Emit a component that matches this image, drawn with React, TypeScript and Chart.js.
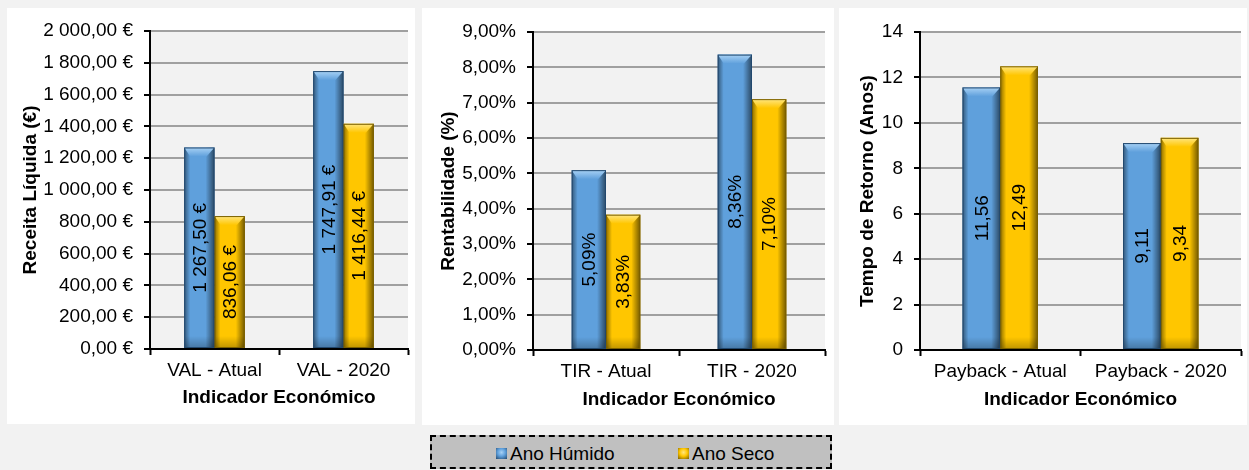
import React, { useEffect, useRef } from 'react';
import { Chart, registerables } from 'chart.js';

Chart.register(...registerables);

const seriesNames = ['Ano Húmido', 'Ano Seco'];
const xTitle = 'Indicador Económico';

const valCategories = ['VAL - Atual', 'VAL - 2020'];
const valHumido = [1267.5, 1747.91];
const valSeco = [836.06, 1416.44];

const tirCategories = ['TIR - Atual', 'TIR - 2020'];
const tirHumido = [5.09, 8.36];
const tirSeco = [3.83, 7.1];

const paybackCategories = ['Payback - Atual', 'Payback - 2020'];
const paybackHumido = [11.56, 9.11];
const paybackSeco = [12.49, 9.34];

const FONT = '"Liberation Sans", Arial, sans-serif';
const FS = 19;
const BLUE = '#5fa0dc';
const BLUE_LIGHT = '#a9d2f5';
const BLUE_DARK = '#22486e';
const GOLD = '#ffc600';
const GOLD_LIGHT = '#ffe680';
const GOLD_DARK = '#7a6000';

function fmtNum(v: number, dec: number): string {
  const s = v.toFixed(dec);
  const [i, d] = s.split('.');
  const ii = i.replace(/\B(?=(\d{3})+(?!\d))/g, ' ');
  return d ? ii + ',' + d : ii;
}
const fmtEuro = (v: number) => fmtNum(v, 2) + ' €';
const fmtPct = (v: number) => fmtNum(v, 2) + '%';
const fmtDec = (v: number) => fmtNum(v, 2);
const fmtInt = (v: number) => fmtNum(v, 0);

const plotBg = {
  id: 'plotBg',
  beforeDraw(chart: any) {
    const { ctx, chartArea: a } = chart;
    ctx.save();
    ctx.fillStyle = '#f2f2f2';
    ctx.fillRect(a.left, a.top, a.right - a.left, a.bottom - a.top);
    ctx.restore();
  },
};

function drawBevel(ctx: CanvasRenderingContext2D, l: number, r: number, t: number, b: number, face: string, light: string, dark: string) {
  const w = r - l;
  const h = b - t;
  ctx.save();
  let g = ctx.createLinearGradient(l, 0, l + 6, 0);
  g.addColorStop(0, 'rgba(0,0,0,0.45)');
  g.addColorStop(1, 'rgba(0,0,0,0)');
  ctx.fillStyle = g;
  ctx.fillRect(l, t, 6, h);
  g = ctx.createLinearGradient(r - 9, 0, r, 0);
  g.addColorStop(0, 'rgba(0,0,0,0)');
  g.addColorStop(1, 'rgba(0,0,0,0.55)');
  ctx.fillStyle = g;
  ctx.fillRect(r - 9, t, 9, h);
  const bh = Math.min(9, h / 2);
  ctx.beginPath();
  ctx.moveTo(l, t);
  ctx.lineTo(r, t);
  ctx.lineTo(r - 8, t + bh);
  ctx.lineTo(l + 6, t + bh);
  ctx.closePath();
  g = ctx.createLinearGradient(0, t, 0, t + bh);
  g.addColorStop(0, light);
  g.addColorStop(1, face);
  ctx.fillStyle = g;
  ctx.fill();
  g = ctx.createLinearGradient(0, b - 12, 0, b);
  g.addColorStop(0, 'rgba(0,0,0,0)');
  g.addColorStop(1, 'rgba(0,0,0,0.25)');
  ctx.fillStyle = g;
  ctx.fillRect(l, b - 12, w, 12);
  ctx.strokeStyle = dark;
  ctx.lineWidth = 1;
  ctx.strokeRect(l + 0.5, t + 0.5, w - 1, h - 1);
  ctx.restore();
}

function makeBarPlugin(fmt: (v: number) => string) {
  return {
    id: 'bevelLabels',
    afterDatasetsDraw(chart: any) {
      const { ctx } = chart;
      const styles = [
        [BLUE, BLUE_LIGHT, BLUE_DARK],
        [GOLD, GOLD_LIGHT, GOLD_DARK],
      ];
      chart.data.datasets.forEach((ds: any, di: number) => {
        const meta = chart.getDatasetMeta(di);
        meta.data.forEach((el: any, i: number) => {
          const l = el.x - el.width / 2;
          const r = el.x + el.width / 2;
          drawBevel(ctx, l, r, el.y, el.base, styles[di][0], styles[di][1], styles[di][2]);
          ctx.save();
          ctx.translate(el.x, (el.y + el.base) / 2);
          ctx.rotate(-Math.PI / 2);
          ctx.font = FS + 'px ' + FONT;
          ctx.fillStyle = '#000';
          ctx.textAlign = 'center';
          ctx.textBaseline = 'middle';
          ctx.fillText(fmt(ds.data[i]), 0, 1);
          ctx.restore();
        });
      });
    },
  };
}

type PanelProps = {
  left: number;
  top: number;
  width: number;
  height: number;
  categories: string[];
  humido: number[];
  seco: number[];
  yMax: number;
  yStep: number;
  yTitle: string;
  tickFmt: (v: number) => string;
  labelFmt: (v: number) => string;
  pad: { left: number; top: number; right: number; bottom: number };
  yW: number;
  xH: number;
};

function BarPanel(p: PanelProps) {
  const ref = useRef<HTMLCanvasElement | null>(null);
  useEffect(() => {
    const chart = new Chart(ref.current as HTMLCanvasElement, {
      type: 'bar',
      data: {
        labels: p.categories,
        datasets: [
          { label: seriesNames[0], data: p.humido, backgroundColor: BLUE, borderWidth: 0 },
          { label: seriesNames[1], data: p.seco, backgroundColor: GOLD, borderWidth: 0 },
        ],
      },
      options: {
        responsive: false,
        animation: false,
        layout: { padding: p.pad },
        plugins: { legend: { display: false }, tooltip: { enabled: false } },
        datasets: { bar: { categoryPercentage: 0.47, barPercentage: 1 } },
        scales: {
          x: {
            z: 1,
            grid: { drawOnChartArea: false, offset: true, tickLength: 6, tickColor: '#000', tickWidth: 2 },
            border: { color: '#000', width: 2 },
            ticks: { font: { size: FS, family: FONT }, color: '#000', padding: 4, maxRotation: 0, autoSkip: false },
            title: { display: true, text: xTitle, font: { size: FS, weight: 'bold', family: FONT, lineHeight: 1 }, color: '#000', padding: 0 },
            afterFit: (s: any) => { s.height = p.xH; },
          },
          y: {
            min: 0,
            max: p.yMax,
            ticks: { stepSize: p.yStep, callback: (v: any) => p.tickFmt(Number(v)), font: { size: FS, family: FONT }, padding: 11, color: '#000' },
            grid: { color: '#a0a0a0', lineWidth: 2, tickLength: 6, tickColor: '#000', tickWidth: 2 },
            border: { color: '#000', width: 2 },
            title: { display: true, text: p.yTitle, font: { size: FS, weight: 'bold', family: FONT, lineHeight: 1 }, color: '#000', padding: 0 },
            afterFit: (s: any) => { s.width = p.yW; },
          },
        },
      } as any,
      plugins: [plotBg, makeBarPlugin(p.labelFmt)],
    });
    return () => chart.destroy();
  }, []);
  return (
    <div style={{ position: 'absolute', left: p.left, top: p.top, width: p.width, height: p.height, background: '#fff' }}>
      <canvas ref={ref} width={p.width} height={p.height} style={{ display: 'block' }} />
    </div>
  );
}

function Marker({ face, light, dark }: { face: string; light: string; dark: string }) {
  return (
    <span
      style={{
        display: 'inline-block',
        width: 11,
        height: 11,
        background: `radial-gradient(circle at 50% 40%, ${light} 0%, ${face} 45%, ${dark} 100%)`,
        marginRight: 3,
        verticalAlign: 'middle',
      }}
    />
  );
}

export default function App() {
  return (
    <div style={{ position: 'fixed', left: 0, top: 0, width: 1249, height: 470, background: '#f2f2f2', fontFamily: FONT, overflow: 'hidden' }}>
      <BarPanel
        left={7} top={8} width={408} height={416}
        categories={valCategories} humido={valHumido} seco={valSeco}
        yMax={2000} yStep={200} yTitle="Receita Líquida (€)"
        tickFmt={fmtEuro} labelFmt={fmtEuro}
        pad={{ left: 14, top: 23, right: 7, bottom: 17 }} yW={129} xH={58}
      />
      <BarPanel
        left={422} top={8} width={412} height={417}
        categories={tirCategories} humido={tirHumido} seco={tirSeco}
        yMax={9} yStep={1} yTitle="Rentabilidade (%)"
        tickFmt={fmtPct} labelFmt={fmtPct}
        pad={{ left: 17, top: 24, right: 9, bottom: 16 }} yW={94} xH={59}
      />
      <BarPanel
        left={839} top={8} width={408} height={417}
        categories={paybackCategories} humido={paybackHumido} seco={paybackSeco}
        yMax={14} yStep={2} yTitle="Tempo de Retorno (Anos)"
        tickFmt={fmtInt} labelFmt={fmtDec}
        pad={{ left: 19, top: 24, right: 6, bottom: 16 }} yW={62} xH={59}
      />
      <div
        style={{
          position: 'absolute', left: 430, top: 435, width: 402, height: 34, boxSizing: 'border-box',
          border: '2px dashed #000', background: '#c0c0c0', fontSize: FS, color: '#000',
        }}
      >
        <div style={{ position: 'absolute', left: 64, top: 5, whiteSpace: 'nowrap', lineHeight: '22px' }}>
          <Marker face={BLUE} light={BLUE_LIGHT} dark={BLUE_DARK} />
          <span style={{ verticalAlign: 'middle' }}>{seriesNames[0]}</span>
        </div>
        <div style={{ position: 'absolute', left: 246, top: 5, whiteSpace: 'nowrap', lineHeight: '22px' }}>
          <Marker face={GOLD} light={GOLD_LIGHT} dark={GOLD_DARK} />
          <span style={{ verticalAlign: 'middle' }}>{seriesNames[1]}</span>
        </div>
      </div>
    </div>
  );
}
